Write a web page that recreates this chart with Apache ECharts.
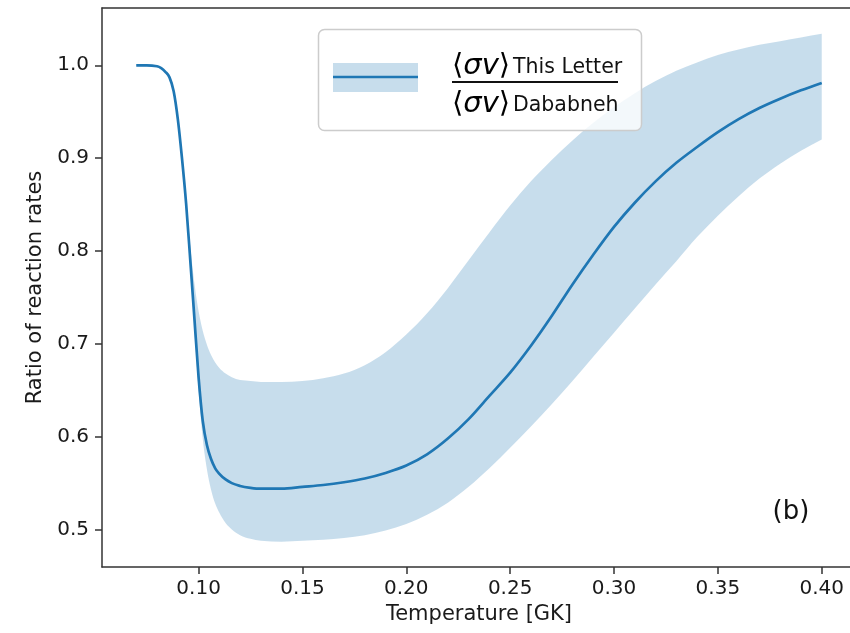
<!DOCTYPE html>
<html><head><meta charset="utf-8">
<script src="https://cdn.jsdelivr.net/npm/echarts@6/dist/echarts.min.js"></script>
<style>html,body{margin:0;padding:0;background:#fff;overflow:hidden}#c{width:850px;height:633px}</style>
</head><body><div id="c"></div>
<script>
const temperature = [0.070, 0.075, 0.080, 0.082, 0.084, 0.086, 0.088, 0.090, 0.092, 0.094,
  0.096, 0.098, 0.100, 0.102, 0.104, 0.106, 0.108, 0.110, 0.113, 0.116,
  0.120, 0.125, 0.130, 0.140, 0.150, 0.160, 0.170, 0.180, 0.190, 0.200,
  0.210, 0.220, 0.230, 0.240, 0.250, 0.260, 0.270, 0.280, 0.290, 0.300,
  0.310, 0.320, 0.330, 0.340, 0.350, 0.360, 0.370, 0.380, 0.390, 0.400];
const ratio = [1.000, 1.000, 0.999, 0.997, 0.993, 0.987, 0.972, 0.942, 0.900, 0.851,
  0.790, 0.727, 0.664, 0.617, 0.591, 0.576, 0.566, 0.560, 0.554, 0.550,
  0.547, 0.545, 0.544, 0.544, 0.546, 0.548, 0.551, 0.555, 0.561, 0.569,
  0.581, 0.598, 0.619, 0.644, 0.669, 0.698, 0.730, 0.764, 0.796, 0.826,
  0.852, 0.875, 0.895, 0.912, 0.928, 0.942, 0.954, 0.964, 0.973, 0.981];
const ratioLower = [0.999, 0.999, 0.998, 0.996, 0.992, 0.985, 0.969, 0.938, 0.895, 0.845,
  0.782, 0.716, 0.650, 0.598, 0.565, 0.543, 0.528, 0.518, 0.507, 0.500,
  0.494, 0.490, 0.488, 0.487, 0.488, 0.489, 0.491, 0.494, 0.499, 0.506,
  0.516, 0.529, 0.546, 0.566, 0.588, 0.611, 0.635, 0.660, 0.686, 0.712,
  0.738, 0.764, 0.789, 0.815, 0.838, 0.859, 0.878, 0.894, 0.908, 0.920];
const ratioUpper = [1.001, 1.001, 1.000, 0.998, 0.994, 0.989, 0.975, 0.946, 0.905, 0.856,
  0.805, 0.765, 0.735, 0.714, 0.699, 0.688, 0.680, 0.674, 0.668, 0.664,
  0.661, 0.660, 0.659, 0.659, 0.660, 0.663, 0.668, 0.677, 0.691, 0.710,
  0.733, 0.760, 0.790, 0.820, 0.849, 0.875, 0.898, 0.919, 0.938, 0.955,
  0.970, 0.983, 0.994, 1.003, 1.011, 1.017, 1.022, 1.026, 1.030, 1.034];
const xTicks = [0.10, 0.15, 0.20, 0.25, 0.30, 0.35, 0.40];
const yTicks = [0.5, 0.6, 0.7, 0.8, 0.9, 1.0];
const xAxisName = 'Temperature [GK]';
const yAxisName = 'Ratio of reaction rates';
const legendNumSub = 'This Letter';
const legendDenSub = 'Dababneh';
const panelLabel = '(b)';

const FONT = '"DejaVu Sans", sans-serif';
const C0 = '#1f77b4';
const BAND = 'rgba(31,119,180,0.25)';
const AX = '#333';
const TXT = '#1a1a1a';

const bandData = temperature.map((t, i) => [t, ratioLower[i], ratioUpper[i]]);
const lineData = temperature.map((t, i) => [t, ratio[i]]);

// monotone cubic (in x) segments through pixel points sorted by x
function monoSegs(P) {
  const n = P.length, t = new Array(n);
  for (let i = 1; i < n - 1; i++) {
    const h0 = P[i][0] - P[i - 1][0], h1 = P[i + 1][0] - P[i][0];
    const s0 = (P[i][1] - P[i - 1][1]) / h0, s1 = (P[i + 1][1] - P[i][1]) / h1;
    const p = (s0 * h1 + s1 * h0) / (h0 + h1);
    t[i] = ((Math.sign(s0) + Math.sign(s1)) * Math.min(Math.abs(s0), Math.abs(s1), 0.5 * Math.abs(p))) || 0;
  }
  const hA = P[1][0] - P[0][0];
  t[0] = (3 * (P[1][1] - P[0][1]) / hA - t[1]) / 2;
  const hB = P[n - 1][0] - P[n - 2][0];
  t[n - 1] = (3 * (P[n - 1][1] - P[n - 2][1]) / hB - t[n - 2]) / 2;
  const segs = [];
  for (let i = 0; i < n - 1; i++) {
    const dx = (P[i + 1][0] - P[i][0]) / 3;
    segs.push({p0: P[i], p1: P[i + 1],
      c1: [P[i][0] + dx, P[i][1] + dx * t[i]],
      c2: [P[i + 1][0] - dx, P[i + 1][1] - dx * t[i + 1]]});
  }
  return segs;
}
const f = v => v.toFixed(2);
const pt = p => f(p[0]) + ' ' + f(p[1]);
function curvePath(P) {
  let d = 'M' + pt(P[0]);
  monoSegs(P).forEach(s => { d += 'C' + pt(s.c1) + ' ' + pt(s.c2) + ' ' + pt(s.p1); });
  return d;
}
function renderBand(params, api) {
  if (params.dataIndex !== 0) return {type: 'group', children: []};
  const up = bandData.map(d => api.coord([d[0], d[2]]));
  const lo = bandData.map(d => api.coord([d[0], d[1]]));
  const sl = monoSegs(lo);
  let d = curvePath(up);
  d += 'L' + pt(lo[lo.length - 1]);
  for (let i = sl.length - 1; i >= 0; i--) {
    const s = sl[i];
    d += 'C' + pt(s.c2) + ' ' + pt(s.c1) + ' ' + pt(s.p0);
  }
  d += 'Z';
  return {type: 'path', shape: {pathData: d}, style: {fill: BAND, stroke: null}, silent: true};
}
function renderLine(params, api) {
  if (params.dataIndex !== 0) return {type: 'group', children: []};
  const P = lineData.map(d => api.coord(d));
  return {type: 'path', shape: {pathData: curvePath(P)},
    style: {fill: null, stroke: C0, lineWidth: 2.7, lineJoin: 'round', lineCap: 'butt'}, silent: true};
}

const chart = echarts.init(document.getElementById('c'), null, {renderer: 'canvas'});
const bracketRich = {
  b: {fontFamily: FONT, fontSize: 29, color: '#111'},
  i: {fontFamily: FONT, fontSize: 29, fontStyle: 'italic', color: '#111'}
};
const axisCommon = {min: 0.0535, max: 0.4165, type: 'value'};
chart.setOption({
  animation: false,
  grid: {left: 102, width: 754, top: 8, bottom: 66, outerBoundsMode: 'none', containLabel: false, show: false},
  xAxis: [{
    ...axisCommon, position: 'bottom',
    axisLine: {show: true, onZero: false, lineStyle: {color: AX, width: 1.5}},
    axisTick: {show: true, length: 7, customValues: xTicks, lineStyle: {color: AX, width: 1.5}},
    axisLabel: {customValues: xTicks, formatter: v => v.toFixed(2), fontSize: 20, color: TXT, fontFamily: FONT, margin: 12},
    splitLine: {show: false},
    name: xAxisName, nameLocation: 'middle', nameGap: 37,
    nameTextStyle: {fontSize: 21, color: TXT, fontFamily: FONT}
  }, {
    ...axisCommon, position: 'top',
    axisLine: {show: true, onZero: false, lineStyle: {color: AX, width: 1.5}},
    axisTick: {show: false}, axisLabel: {show: false}, splitLine: {show: false}
  }],
  yAxis: {
    type: 'value', min: 0.4597, max: 1.0617,
    axisLine: {show: true, onZero: false, lineStyle: {color: AX, width: 1.5}},
    axisTick: {show: true, length: 7, customValues: yTicks, lineStyle: {color: AX, width: 1.5}},
    axisLabel: {customValues: yTicks, formatter: v => v.toFixed(1), fontSize: 20, color: TXT, fontFamily: FONT, margin: 13},
    splitLine: {show: false},
    name: yAxisName, nameLocation: 'middle', nameGap: 53, nameRotate: 90,
    nameTextStyle: {fontSize: 21, color: TXT, fontFamily: FONT}
  },
  series: [
    {type: 'custom', data: bandData, encode: {x: 0, y: [1, 2]}, renderItem: renderBand, silent: true, z: 1},
    {type: 'custom', data: lineData, encode: {x: 0, y: 1}, renderItem: renderLine, silent: true, z: 5}
  ],
  graphic: [
    {type: 'rect', z: 100, shape: {x: 318.5, y: 29.5, width: 323, height: 101, r: 6},
     style: {fill: 'rgba(255,255,255,0.8)', stroke: '#cccccc', lineWidth: 1.5}},
    {type: 'rect', z: 101, shape: {x: 333, y: 63, width: 85, height: 29}, style: {fill: BAND}},
    {type: 'line', z: 102, shape: {x1: 333, y1: 77, x2: 418, y2: 77}, style: {stroke: C0, lineWidth: 2.7}},
    {type: 'text', z: 102, x: 452, y: 66, style: {text: '{b|⟨}{i|σv}{b|⟩}', rich: bracketRich, verticalAlign: 'middle'}},
    {type: 'text', z: 102, x: 513, y: 68, style: {text: legendNumSub, fontFamily: FONT, fontSize: 20.5, fill: '#111', verticalAlign: 'middle'}},
    {type: 'line', z: 102, shape: {x1: 452, y1: 82, x2: 618, y2: 82}, style: {stroke: '#111', lineWidth: 2}},
    {type: 'text', z: 102, x: 452, y: 104, style: {text: '{b|⟨}{i|σv}{b|⟩}', rich: bracketRich, verticalAlign: 'middle'}},
    {type: 'text', z: 102, x: 513, y: 106, style: {text: legendDenSub, fontFamily: FONT, fontSize: 20.5, fill: '#111', verticalAlign: 'middle'}},
    {type: 'text', z: 102, x: 791, y: 512, style: {text: panelLabel, fontFamily: FONT, fontSize: 26, fill: '#111', align: 'center', verticalAlign: 'middle'}},
    {type: 'rect', z: 1000, shape: {x: 844, y: 10, width: 8, height: 555}, style: {fill: '#fff'}}
  ]
});
</script></body></html>
